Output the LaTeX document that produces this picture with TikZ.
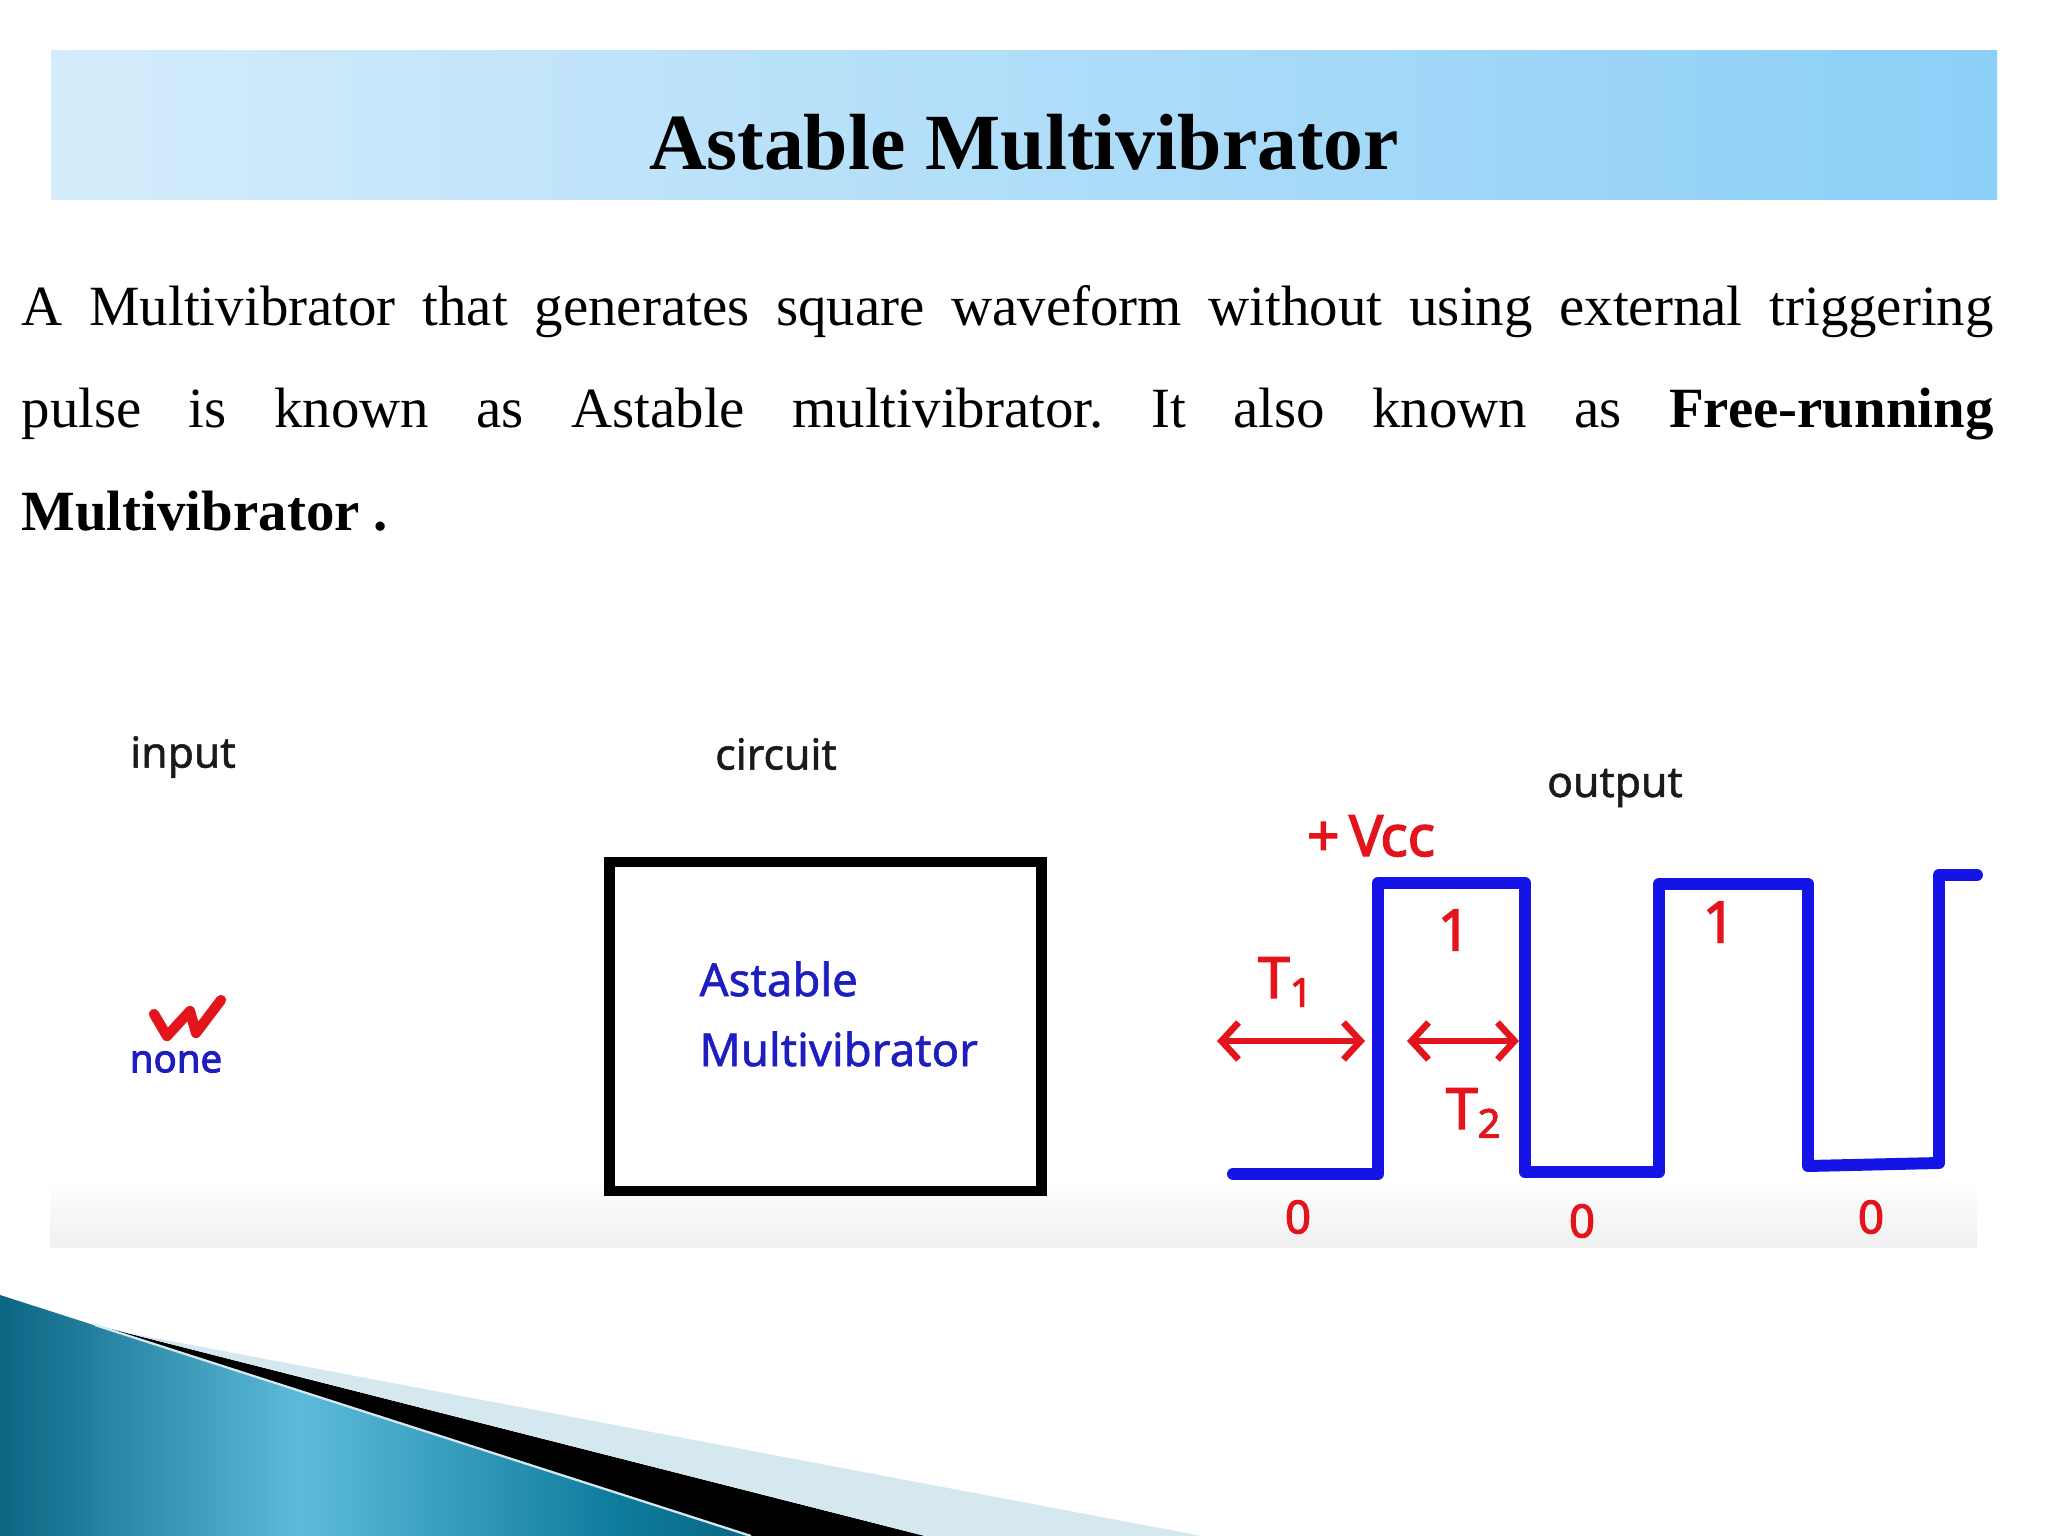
\documentclass[tikz,border=0pt]{standalone}
\usepackage{fontspec}
\setmainfont{Liberation Serif}
\newfontfamily\handfont{Noto Sans}
\newfontfamily\handbold[FakeBold=2.5]{Noto Sans}
\newfontfamily\handmid[FakeBold=1.2]{Noto Sans}
\usetikzlibrary{arrows.meta}
\definecolor{bandL}{HTML}{D4ECFB}
\definecolor{bandR}{HTML}{8CCFF7}
\definecolor{penred}{HTML}{E3141C}
\definecolor{inkblue}{HTML}{1E1EC0}
\definecolor{waveblue}{HTML}{1414E6}
\definecolor{tealA}{HTML}{0A6683}
\definecolor{tealB}{HTML}{5DBBDA}
\definecolor{tealC}{HTML}{0E7C9D}
\definecolor{paleblue}{HTML}{D6E8EF}
\definecolor{labelgray}{HTML}{1A1A1A}
\pgfdeclarehorizontalshading{tealsh}{100bp}{color(0bp)=(tealA); color(25bp)=(tealA); color(45bp)=(tealB); color(66bp)=(tealC); color(75bp)=(tealA); color(100bp)=(tealA)}
\tikzset{
  titletext/.style={inner sep=0pt, font=\fontsize{28}{32}\selectfont\bfseries},
  bodytext/.style={inner sep=0pt, anchor=base west, font=\fontsize{20}{24}\selectfont\frenchspacing},
  lbl/.style={inner sep=0pt, text=labelgray, font=\handmid\fontsize{15}{18}\selectfont},
  bluetxt/.style={inner sep=0pt, text=inkblue, font=\handmid\fontsize{16}{24.6}\selectfont},
  nonetxt/.style={inner sep=0pt, text=inkblue, font=\handbold\fontsize{13.5}{16}\selectfont},
  penlbl/.style={inner sep=0pt, text=penred, font=\handbold\fontsize{20}{24}\selectfont},
  zerolbl/.style={inner sep=0pt, text=penred, font=\handbold\fontsize{16}{20}\selectfont},
  wavestyle/.style={draw=waveblue, line width=4.2pt, line cap=round, line join=round},
  penarrow/.style={draw=penred, line width=2.3pt, line cap=round,
    {Straight Barb[length=6pt,width=13pt]}-{Straight Barb[length=6pt,width=13pt]}},
  boxstyle/.style={draw=black, line width=3.8pt, inner sep=0pt, minimum width=152pt, minimum height=115.7pt}
}
\begin{document}
\begin{tikzpicture}[x=0.3515625pt,y=-0.3515625pt]
\useasboundingbox (0,0) rectangle (2048,1536);
\fill[white] (0,0) rectangle (2048,1536);
% title band
\shade[left color=bandL,right color=bandR] (51,51) rectangle (1997,200);
\node[titletext, anchor=base] (title) at (1024,170) {Astable Multivibrator};
% body text
\node[bodytext] (line1) at (21,326) {\makebox[693.3pt][s]{A Multivibrator that generates square waveform without using external triggering}};
\node[bodytext] (line2) at (21,428) {\makebox[693.3pt][s]{pulse is known as Astable multivibrator. It also known as \textbf{Free-running}}};
\node[bodytext] (line3) at (21,531) {\textbf{Multivibrator .}};
% picture background fade
\shade[top color=white, bottom color=black!6] (50,1180) rectangle (1977,1247);
% labels
\node[lbl] (input) at (183,757) {input};
\node[lbl] (circuit) at (776,754) {circuit};
\node[lbl] (output) at (1615,788) {output};
% input side
\node[nonetxt] (none) at (176,1062) {none};
\draw[penred, line width=3.6pt, line join=round, line cap=round] (154,1014) -- (167,1036) -- (190,1011) -- (196,1033) -- (221,1000);
% circuit box
\node[boxstyle] (box) at (825.5,1026.5) {};
\node[bluetxt, align=left, anchor=west] (boxlabel) at (699,1014) {Astable\\Multivibrator};
% output waveform
\draw[wavestyle] (1233,1174) -- (1378,1174) -- (1378,883) -- (1525,883) -- (1525,1172) -- (1659,1172) -- (1659,884) -- (1808,884) -- (1808,1166) -- (1939,1163) -- (1939,875) -- (1977,875);
\node[penlbl] (vcc) at (1371,836) {+\,V\kern-1pt cc};
\node[penlbl] (one1) at (1454,930) {1};
\node[penlbl] (one2) at (1719,922) {1};
\node[penlbl] (t1) at (1286,982) {T\textsubscript{1}};
\node[penlbl] (t2) at (1474,1113) {T\textsubscript{2}};
\coordinate (t1a) at (1217,1041);
\coordinate (t1b) at (1365,1041);
\coordinate (t2a) at (1407,1041);
\coordinate (t2b) at (1519,1041);
\draw[penarrow] (t1a) -- (t1b);
\draw[penarrow] (t2a) -- (t2b);
\node[zerolbl] (z1) at (1298,1217) {0};
\node[zerolbl] (z2) at (1582,1221) {0};
\node[zerolbl] (z3) at (1871,1217) {0};
% bottom decoration
\shade[shading=tealsh] (0,1295) -- (751,1536) -- (0,1536) -- cycle;
\fill[black] (95,1325) -- (925,1536) -- (751,1536) -- cycle;
\fill[paleblue] (128,1333) -- (1202,1536) -- (925,1536) -- cycle;
\draw[paleblue, line width=0.8pt] (95,1325) -- (751,1536);
\end{tikzpicture}
\end{document}
